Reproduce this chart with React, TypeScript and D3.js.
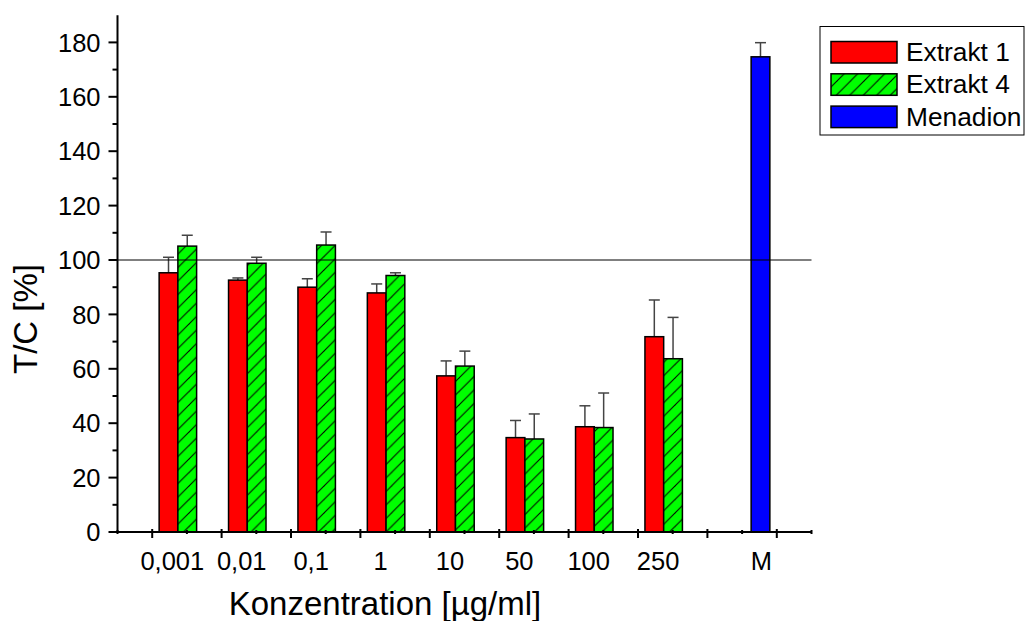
import React from "react";
import * as d3 from "d3";

const categories = ["0,001", "0,01", "0,1", "1", "10", "50", "100", "250", "M"];
const extrakt1 = [95.3, 92.6, 90.0, 87.9, 57.4, 34.7, 38.7, 71.8, null];
const extrakt1Err = [5.7, 0.8, 3.1, 3.3, 5.5, 6.3, 7.7, 13.5, null];
const extrakt4 = [105.1, 98.8, 105.5, 94.3, 61.0, 34.2, 38.4, 63.7, null];
const extrakt4Err = [4.0, 2.2, 4.8, 1.0, 5.5, 9.2, 12.7, 15.2, null];
const menadion = [null, null, null, null, null, null, null, null, 174.7];
const menadionErr = [null, null, null, null, null, null, null, null, 5.2];
const yTicks = [0, 20, 40, 60, 80, 100, 120, 140, 160, 180];
const seriesNames = ["Extrakt 1", "Extrakt 4", "Menadion"];
const seriesColors = ["#ff0000", "#00ff00", "#0000ff"];
const referenceLine = 100;

const FONT = "'Liberation Sans', Arial, Helvetica, sans-serif";

export default function App() {
  const W = 1026;
  const H = 621;
  const x = d3.scaleLinear().domain([0, 10]).range([117.5, 811.5]);
  const y = d3.scaleLinear().domain([0, 190]).range([532, 15.2]);
  const bw = 0.27;
  const offsets = [-0.4, -0.13, 0.13];
  const series = [
    { vals: extrakt1, errs: extrakt1Err },
    { vals: extrakt4, errs: extrakt4Err },
    { vals: menadion, errs: menadionErr },
  ];

  const majorX = d3.range(0.5, 10, 1);
  const minorX = d3.range(0, 11, 1);
  const minorY = d3.range(10, 190, 20);

  const bars: React.ReactNode[] = [];
  const errs: React.ReactNode[] = [];
  series.forEach((s, si) => {
    s.vals.forEach((v, i) => {
      if (v == null) return;
      const k = i + 1;
      const x0 = x(k + offsets[si]);
      const x1 = x(k + offsets[si] + bw);
      const cx = (x0 + x1) / 2;
      const e = s.errs[i] as number;
      errs.push(
        <g key={`e${si}-${i}`} stroke="#444" strokeWidth={1.5}>
          <line x1={cx} x2={cx} y1={y(v)} y2={y(v + e)} />
          <line x1={cx - 5.5} x2={cx + 5.5} y1={y(v + e)} y2={y(v + e)} />
        </g>
      );
      bars.push(
        <g key={`b${si}-${i}`}>
          <rect x={x0} y={y(v)} width={x1 - x0} height={y(0) - y(v)} fill={seriesColors[si]} />
          {si === 1 && (
            <rect x={x0} y={y(v)} width={x1 - x0} height={y(0) - y(v)} fill="url(#hatch)" />
          )}
          <rect
            x={x0}
            y={y(v)}
            width={x1 - x0}
            height={y(0) - y(v)}
            fill="none"
            stroke="#000"
            strokeWidth={1.5}
          />
        </g>
      );
    });
  });

  const legX = 820;
  const legY = 26.5;
  const rowH = 32.3;

  return (
    <svg
      width={W}
      height={H}
      style={{ position: "absolute", left: 0, top: 0, background: "#fff" }}
      fontFamily={FONT}
    >
      <defs>
        <pattern id="hatch" patternUnits="userSpaceOnUse" width={13.5} height={13.5}>
          <line x1={0} y1={13.5} x2={13.5} y2={0} stroke="#000" strokeWidth={1} />
          <line x1={-3} y1={3} x2={3} y2={-3} stroke="#000" strokeWidth={1} />
          <line x1={10.5} y1={16.5} x2={16.5} y2={10.5} stroke="#000" strokeWidth={1} />
        </pattern>
      </defs>
      <rect width={W} height={H} fill="#fff" />

      {errs}
      {bars}

      {/* reference line */}
      <line
        x1={x(0)}
        x2={x(10)}
        y1={y(referenceLine)}
        y2={y(referenceLine)}
        stroke="#000"
        strokeWidth={1}
      />

      {/* Y axis */}
      <line x1={x(0)} x2={x(0)} y1={y(190)} y2={y(0) + 1} stroke="#000" strokeWidth={2} />
      {yTicks.map((t) => (
        <g key={`yt${t}`}>
          <line x1={x(0) - 9} x2={x(0)} y1={y(t)} y2={y(t)} stroke="#000" strokeWidth={2} />
          <text x={100.5} y={y(t)} dy="0.36em" textAnchor="end" fontSize={25.5} fill="#000">
            {t}
          </text>
        </g>
      ))}
      {minorY.map((t) => (
        <line key={`ym${t}`} x1={x(0) - 5} x2={x(0)} y1={y(t)} y2={y(t)} stroke="#000" strokeWidth={2} />
      ))}

      {/* X axis */}
      <line x1={x(0) - 1} x2={x(10)} y1={y(0)} y2={y(0)} stroke="#000" strokeWidth={2} />
      {majorX.map((t) => (
        <line key={`xt${t}`} x1={x(t)} x2={x(t)} y1={y(0) - 3} y2={y(0) + 6} stroke="#000" strokeWidth={2} />
      ))}
      {minorX.map((t) => (
        <line key={`xm${t}`} x1={x(t)} x2={x(t)} y1={y(0) - 2} y2={y(0) + 2} stroke="#000" strokeWidth={2} />
      ))}
      {categories.map((c, i) => {
        const k = i + 1;
        const lx = c === "M" ? x(k + offsets[2] + bw / 2) + 1 : x(k - 0.21);
        return (
          <text key={`xl${c}`} x={lx} y={570} textAnchor="middle" fontSize={25.5} fill="#000">
            {c}
          </text>
        );
      })}

      {/* axis titles */}
      <text x={385} y={615} textAnchor="middle" fontSize={33} fill="#000">
        Konzentration [µg/ml]
      </text>
      <text
        transform={`translate(37,319) rotate(-90)`}
        textAnchor="middle"
        fontSize={33}
        fill="#000"
      >
        T/C [%]
      </text>

      {/* legend */}
      <rect x={legX} y={legY} width={204} height={108.5} fill="#fff" stroke="#000" strokeWidth={1} />
      {seriesNames.map((n, i) => {
        const ry = legY + 15 + i * rowH;
        return (
          <g key={`lg${n}`}>
            <rect x={831} y={ry} width={66} height={21.5} fill={seriesColors[i]} />
            {i === 1 && <rect x={831} y={ry} width={66} height={21.5} fill="url(#hatch)" />}
            <rect x={831} y={ry} width={66} height={21.5} fill="none" stroke="#000" strokeWidth={1.5} />
            <text x={906} y={ry + 19.5} fontSize={26.3} fill="#000">
              {n}
            </text>
          </g>
        );
      })}
    </svg>
  );
}
